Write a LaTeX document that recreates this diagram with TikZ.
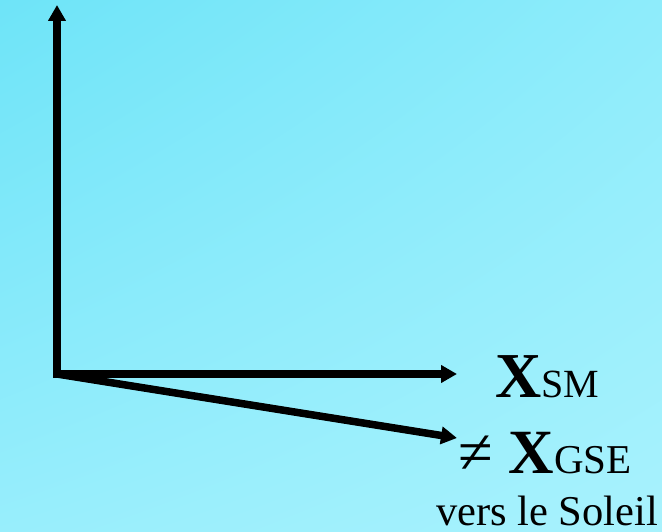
\documentclass[tikz,border=0pt]{standalone}
\usepackage{fontspec}
\setmainfont{Liberation Serif}
\usetikzlibrary{arrows.meta,shadings}
\definecolor{bgTL}{RGB}{110,228,248}
\definecolor{bgTR}{RGB}{142,236,251}
\definecolor{bgBL}{RGB}{152,238,252}
\definecolor{bgBR}{RGB}{168,242,253}
\begin{document}
\begin{tikzpicture}[x=1pt,y=-1pt,
  axis/.style={line width=7.5pt,-{Triangle[length=16pt,width=17pt]}},
  lbl/.style={inner sep=0pt,anchor=base west}]
% background
\shade[upper left=bgTL,upper right=bgTR,lower left=bgBL,lower right=bgBR]
  (0,0) rectangle (662,532);
\useasboundingbox (0,0) rectangle (662,532);
% axes
\coordinate (O) at (57,374);
\coordinate (Ztip) at (57,5);
\coordinate (Xsm) at (457,374);
\coordinate (Xgse) at (457,438);
\draw[axis] ([yshift=3.75pt]O) -- (Ztip);
\draw[axis] ([xshift=-3.75pt]O) -- (Xsm);
\draw[axis] (O) -- (Xgse);
% labels
\node[lbl] (lsm) at (495,397) {\fontsize{64}{64}\selectfont\bfseries X\fontsize{40}{40}\mdseries\selectfont SM};
\node[lbl] (lgse) at (458,473) {\fontsize{63}{63}\selectfont ≠ \bfseries X\fontsize{41}{41}\mdseries\selectfont GSE};
\node[lbl] (lsun) at (436,525) {\fontsize{42.5}{42.5}\selectfont vers le Soleil};
\end{tikzpicture}
\end{document}
